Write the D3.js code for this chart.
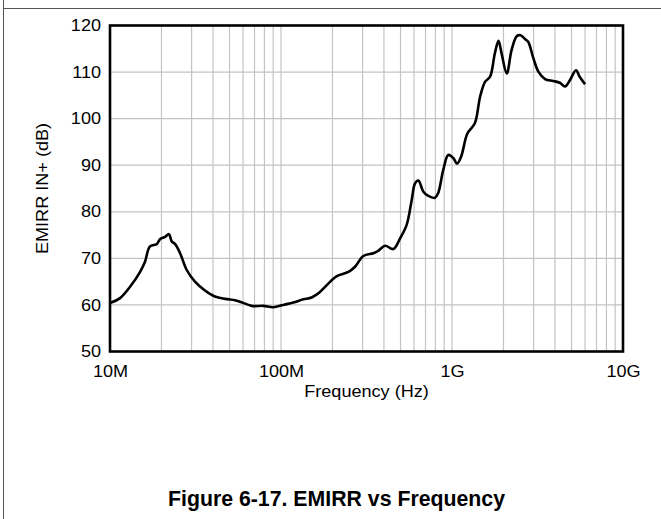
<!DOCTYPE html>
<html><head><meta charset="utf-8">
<script src="https://cdn.jsdelivr.net/npm/d3@7"></script>
<style>html,body{margin:0;padding:0;background:#fff;}svg{display:block;}</style>
</head><body>
<svg id="c" width="661" height="519"></svg>
<script>
// Data (frequency in MHz, EMIRR in dB)
const freqMHz = [10,11.4,13.1,15.0,16.0,17.1,18.8,19.6,21.0,22.1,23.0,24.0,25.7,28.1,31.4,35.9,41.1,47.1,53.8,57.5,67.4,78.8,90.2,103,118,135,151,169,194,212,248,271,303,347,370,406,454,497,543,581,608,636,680,727,795,830,889,951,1020,1070,1130,1230,1360,1460,1560,1670,1780,1870,1950,2090,2230,2390,2510,2670,2790,2990,3200,3500,3910,4270,4580,4900,5310,5580,6000];
const emirr = [60.4,61.4,63.9,67.1,69.2,72.5,73.1,74.1,74.6,75.2,73.6,73.1,71.1,67.5,65.0,63.1,61.8,61.3,61.0,60.7,59.8,59.8,59.5,60.0,60.5,61.2,61.6,62.8,65.0,66.2,67.1,68.2,70.5,71.1,71.6,72.7,72.0,74.3,77.2,82.5,86.1,86.7,84.3,83.4,83.0,84.0,89.0,92.2,91.5,90.3,91.8,96.8,99.0,104.7,107.9,109.0,114.0,116.7,114.0,109.7,114.7,117.7,117.9,117.1,116.5,113.0,110.1,108.5,108.1,107.7,106.9,108.3,110.4,109.0,107.4];
const xTickValues = [10,100,1000,10000];
const xTickLabels = ["10M","100M","1G","10G"];
const yTickValues = [50,60,70,80,90,100,110,120];
const xTitle = "Frequency (Hz)";
const yTitle = "EMIRR IN+ (dB)";
const caption = "Figure 6-17. EMIRR vs Frequency";

const svg = d3.select("#c");
const L = 110, R = 623, T = 25.5, B = 351.5;
const x = d3.scaleLog().domain([10, 10000]).range([L, R]);
const y = d3.scaleLinear().domain([50, 120]).range([B, T]);
const font = "Liberation Sans, Arial, sans-serif";
const stretch = 1.13;
function widen(sel) {
  sel.each(function() {
    const w = this.getComputedTextLength();
    d3.select(this).attr("textLength", w * stretch).attr("lengthAdjust", "spacingAndGlyphs");
  });
}

// page frame
svg.append("line").attr("x1",3.5).attr("x2",3.5).attr("y1",0).attr("y2",519).attr("stroke","#555").attr("stroke-width",1);
svg.append("line").attr("x1",3).attr("x2",661).attr("y1",8.5).attr("y2",8.5).attr("stroke","#555").attr("stroke-width",1);

// grid
const vGrid = [];
for (let d = 10; d < 10000; d *= 10) for (let m = 1; m <= 9; m++) vGrid.push(d*m);
svg.append("g").selectAll("line").data(vGrid.filter(v => v > 10)).join("line")
  .attr("x1", d => x(d)).attr("x2", d => x(d)).attr("y1", T).attr("y2", B)
  .attr("stroke", "#c4c4c4").attr("stroke-width", 1.2);
svg.append("g").selectAll("line").data(yTickValues.slice(1, -1)).join("line")
  .attr("x1", L).attr("x2", R).attr("y1", d => y(d)).attr("y2", d => y(d))
  .attr("stroke", "#c4c4c4").attr("stroke-width", 1.2);

// axes
const yAxis = svg.append("g").attr("transform", `translate(${L},0)`)
  .call(d3.axisLeft(y).tickValues(yTickValues).tickSize(0).tickPadding(9));
yAxis.select(".domain").remove();
yAxis.selectAll("text").attr("font-size", 16).attr("font-family", font).attr("fill", "#000").call(widen);
const xAxis = svg.append("g").attr("transform", `translate(0,${B})`)
  .call(d3.axisBottom(x).tickValues(xTickValues).tickFormat((d,i) => xTickLabels[i]).tickSize(0).tickPadding(14));
xAxis.select(".domain").remove();
xAxis.selectAll("text").attr("font-size", 16).attr("font-family", font).attr("fill", "#000").call(widen);

// curve
const line = d3.line().x((d,i) => x(freqMHz[i])).y(d => y(d)).curve(d3.curveCatmullRom.alpha(0.5));
svg.append("path").datum(emirr).attr("d", line).attr("fill", "none")
  .attr("stroke", "#000").attr("stroke-width", 2.6).attr("stroke-linejoin", "round");

// plot border
svg.append("rect").attr("x", L).attr("y", T).attr("width", R - L).attr("height", B - T)
  .attr("fill", "none").attr("stroke", "#000").attr("stroke-width", 2.6);

// titles
svg.append("text").attr("x", (L + R) / 2).attr("y", 397).attr("text-anchor", "middle")
  .attr("font-size", 16).attr("font-family", font).text(xTitle).call(widen);
svg.append("text").attr("transform", `translate(48,${(T + B) / 2}) rotate(-90)`).attr("text-anchor", "middle")
  .attr("font-size", 16).attr("font-family", font).text(yTitle).call(widen);
svg.append("text").attr("x", 336.5).attr("y", 506).attr("text-anchor", "middle")
  .attr("font-size", 22).attr("font-weight", "bold").attr("font-family", font)
  .attr("textLength", 337).attr("lengthAdjust", "spacingAndGlyphs").text(caption);
</script>
</body></html>
